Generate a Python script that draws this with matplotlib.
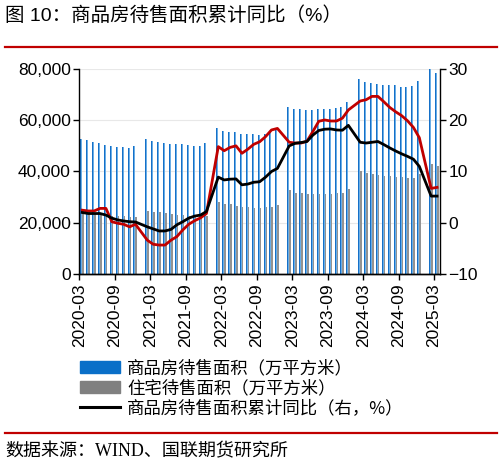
import numpy as np
import pandas as pd
import matplotlib
matplotlib.use("Agg")
import matplotlib.pyplot as plt
from matplotlib.lines import Line2D
from matplotlib.ticker import FuncFormatter

plt.rcParams['font.family'] = ['Liberation Sans', 'Noto Sans CJK SC', 'DejaVu Sans']

# ---- data ----
all_months = pd.period_range('2020-03', '2025-03', freq='M')
months = [p for p in all_months if p.month != 1]          # January not reported
tick_labels = ['2020-03', '2020-09', '2021-03', '2021-09', '2022-03', '2022-09',
               '2023-03', '2023-09', '2024-03', '2024-09', '2025-03']

# 商品房待售面积（万平方米）
commodity_area = [
    52550, 52200, 51600, 51000, 50400, 49950, 49500, 49500, 49300, 49850,            # 2020-03..12
    52550, 51850, 51450, 51050, 50900, 50730, 50550, 50200, 50100, 50100, 51000,     # 2021
    56850, 55940, 55550, 55400, 54800, 54500, 54500, 54200, 54500, 55300, 56300,     # 2022
    65300, 64550, 64400, 64000, 64000, 64400, 64500, 64500, 64800, 65300, 67200,     # 2023
    75970, 74800, 74400, 74300, 73900, 73900, 73600, 73100, 73000, 73400, 75200,     # 2024
    79900, 78600,                                                                    # 2025
]
# 住宅待售面积（万平方米）
residential_area = [
    24500, 24200, 23800, 23400, 23000, 22800, 22600, 22500, 22400, 22400,
    24700, 24300, 24000, 23700, 23500, 23200, 23000, 22800, 22700, 22600, 22800,
    28100, 27400, 27200, 26700, 26300, 26000, 25900, 25900, 26100, 26300, 26900,
    32650, 31750, 31500, 31250, 31200, 31300, 31400, 31400, 31700, 31700, 33050,
    40300, 39550, 39000, 38750, 38250, 38200, 38000, 37700, 37650, 37450, 39000,
    42900, 42150,
]
# 商品房待售面积累计同比（%）
commodity_yoy = [
    2.0, 1.8, 1.8, 1.8, 1.5, 0.9, 0.55, 0.35, 0.2, 0.15,
    -0.8, -1.2, -1.6, -1.6, -1.3, -0.4, 0.2, 0.9, 1.3, 1.5, 2.2,
    8.9, 8.35, 8.5, 8.55, 7.4, 7.55, 7.9, 8.0, 8.9, 10.0, 10.6,
    15.0, 15.5, 15.65, 15.85, 17.1, 18.0, 18.25, 18.3, 18.1, 18.05, 19.0,
    15.7, 15.55, 15.7, 15.85, 15.25, 14.6, 14.0, 13.45, 12.95, 12.4, 11.0,
    5.2, 5.2,
]
# 住宅待售面积累计同比（%）(red, unlabeled)
residential_yoy = [
    2.45, 2.3, 2.3, 2.8, 2.8, 0.2, -0.1, -0.3, -0.8, -0.3,
    -3.4, -4.2, -4.35, -4.35, -3.4, -2.7, -1.4, -0.3, 0.4, 0.95, 1.8,
    14.85, 14.05, 14.7, 15.0, 13.55, 14.35, 15.3, 15.8, 16.8, 18.1, 18.4,
    15.7, 15.55, 15.55, 15.9, 17.8, 19.8, 20.05, 19.85, 19.85, 20.4, 22.0,
    23.75, 24.0, 24.65, 24.65, 23.6, 22.5, 21.65, 20.9, 19.9, 18.6, 16.6,
    6.7, 6.9,
]

label_blue = '商品房待售面积（万平方米）'
label_grey = '住宅待售面积（万平方米）'
label_black = '商品房待售面积累计同比（右，%）'

# ---- positions ----
all_list = list(all_months)
x = np.array([all_list.index(p) for p in months], dtype=float)
tick_pos = [all_list.index(pd.Period(t, freq='M')) for t in tick_labels]

fig = plt.figure(figsize=(5.02, 4.66), dpi=100)
ax = fig.add_axes([0.158, 0.412, 0.7185, 0.44])

# blue bars drawn as a dark left half and a light right half (gradient look)
ax.bar(x + 0.16, commodity_area, width=0.17, align='edge', color='#1570C8', lw=0, zorder=2)
ax.bar(x + 0.33, commodity_area, width=0.17, align='edge', color='#6AAEE6', lw=0, zorder=2)
ax.bar(x + 0.50, residential_area, width=0.26, align='edge', color='#939393', lw=0, zorder=2)
ax.set_ylim(0, 80000)
ax.set_yticks([0, 20000, 40000, 60000, 80000])
ax.yaxis.set_major_formatter(FuncFormatter(lambda v, p: f'{int(v):,}'))
ax.set_xlim(0, 61)
ax.set_xticks(tick_pos)
ax.set_xticklabels(tick_labels, rotation=90)
ax.yaxis.grid(True, color='#E8E8E8', lw=0.8)
ax.set_axisbelow(True)

ax2 = ax.twinx()
ax2.plot(x + 0.5, residential_yoy, color='#C00000', lw=2.0, solid_joinstyle='round')
ax2.plot(x + 0.5, commodity_yoy, color='black', lw=2.0, solid_joinstyle='round')
ax2.set_ylim(-10, 30)
ax2.set_yticks([-10, 0, 10, 20, 30])

for a in (ax, ax2):
    a.spines['top'].set_visible(False)
    for s in a.spines.values():
        s.set_linewidth(1.0)
        s.set_color('black')
ax2.spines['left'].set_visible(False)
ax.spines['right'].set_visible(False)

ax.tick_params(axis='y', direction='out', length=4, width=1, labelsize=12.5, pad=2)
ax.tick_params(axis='x', direction='out', length=4, width=1, labelsize=12.5, pad=3)
ax2.tick_params(axis='y', direction='out', length=4, width=1, labelsize=12.5, pad=2)

handles = [plt.Rectangle((0, 0), 1, 1, color='#0A6FC8'),
           plt.Rectangle((0, 0), 1, 1, color='#808080'),
           Line2D([0], [0], color='black', lw=2.2)]
leg = fig.legend(handles, [label_blue, label_grey, label_black],
                 loc='upper left', bbox_to_anchor=(0.16, 1 - 359 / 466),
                 frameon=False, handlelength=2.3, handleheight=0.65,
                 labelspacing=0.12, handletextpad=0.4, borderaxespad=0, borderpad=0,
                 prop={'family': ['Noto Sans CJK SC', 'DejaVu Sans'], 'size': 12.5})

fig.text(0.01, 1 - 16 / 466, '图 10：商品房待售面积累计同比（%）', fontsize=14,
         va='center', ha='left', family=['Liberation Sans', 'Noto Sans CJK SC'])
fig.add_artist(Line2D([5 / 502, 497 / 502], [1 - 47 / 466, 1 - 47 / 466],
                      transform=fig.transFigure, color='#C00000', lw=1.6))
fig.add_artist(Line2D([5 / 502, 497 / 502], [1 - 433 / 466, 1 - 433 / 466],
                      transform=fig.transFigure, color='#C00000', lw=1.6))
fig.text(0.01, 1 - 452 / 466, '数据来源：WIND、国联期货研究所', fontsize=13,
         va='center', ha='left', family=['Liberation Serif', 'Noto Sans CJK SC'])

fig.savefig('out.png', dpi=100)
